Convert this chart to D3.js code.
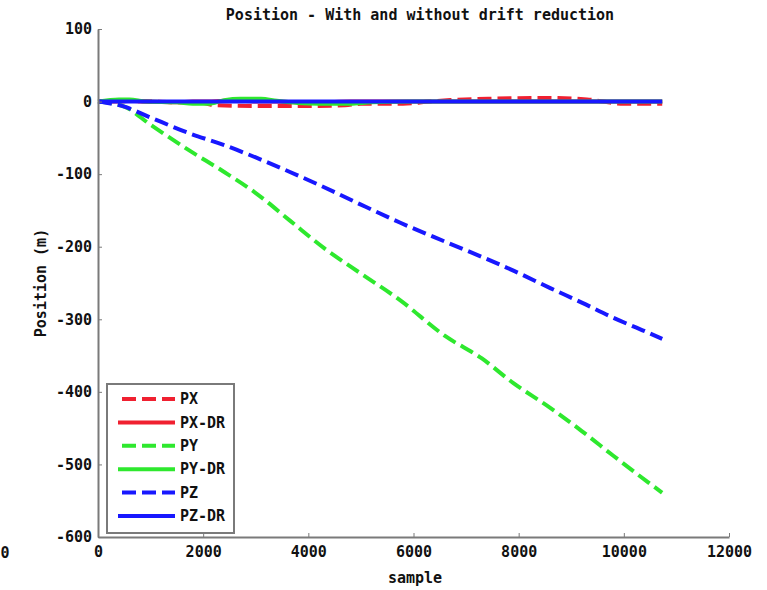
<html>
<head>
<meta charset="utf-8">
<script src="https://d3js.org/d3.v7.min.js"></script>
<style>
  body { margin: 0; background: #fff; }
  text { font-family: "DejaVu Sans Mono", monospace; font-weight: bold; fill: #111; }
</style>
</head>
<body>
<svg width="767" height="590"></svg>
<script>
// samples and series
var sampleXY = [0, 500, 1000, 1750, 2400, 3000, 3650, 4300, 5000, 5750, 6600, 7300, 7900, 8600, 9200, 9800, 10450, 10730];
var PY = [0, -7, -32, -68, -97, -126, -164, -202, -237, -274, -323, -354, -388, -422, -454, -488, -524, -539];
var PZ = [0, -7, -22, -44, -60, -77, -97, -118, -142, -167, -193, -214, -233, -257, -277, -298, -318, -327];

var samplePX = [0, 500, 1000, 1500, 2000, 2200, 3000, 4000, 4700, 5000, 5800, 6300, 6700, 7500, 8500, 9300, 9600, 10000, 10730];
var PX = [0, 1, 0, -1, -2, -5, -6, -6, -5, -3, -3, 0, 2, 4, 5, 3, 0, -3, -3];

var sampleDR = [0, 400, 600, 900, 1500, 1800, 2100, 2400, 2700, 3100, 3400, 3800, 4200, 4800, 5200, 6000, 8000, 10730];
var PYDR = [0, 3, 3, 0, -1, -3, -3, 2, 4, 4, 1, -2, -3, -3, -1, 0, 0, 0];
var PXDR = [0, 0, 1, 0, -1, 0, 0, 1, 1, 0, 0, -1, -1, 0, 0, 0, 0, 0];
var PZDR = [0, 0, 0, 0, 0, 0, 0, 0, 0, 0, 0, 0, 0, 0, 0, 0, 0, 0];

var xTicks = [0, 2000, 4000, 6000, 8000, 10000, 12000];
var yTicks = [100, 0, -100, -200, -300, -400, -500, -600];
var legendNames = ["PX", "PX-DR", "PY", "PY-DR", "PZ", "PZ-DR"];

var red = "#f02030", green = "#2ee82e", blue = "#1818ff";

var svg = d3.select("svg");
var x = d3.scaleLinear().domain([0, 12000]).range([98, 729]);
var y = d3.scaleLinear().domain([-600, 100]).range([537, 29]);

var series = [
  {name: "PX", xs: samplePX, ys: PX, color: red, dash: true},
  {name: "PX-DR", xs: sampleDR, ys: PXDR, color: red, dash: false},
  {name: "PY", xs: sampleXY, ys: PY, color: green, dash: true},
  {name: "PY-DR", xs: sampleDR, ys: PYDR, color: green, dash: false},
  {name: "PZ", xs: sampleXY, ys: PZ, color: blue, dash: true},
  {name: "PZ-DR", xs: sampleDR, ys: PZDR, color: blue, dash: false}
];

var line = d3.line().curve(d3.curveMonotoneX)
  .x(function(d) { return x(d[0]); }).y(function(d) { return y(d[1]); });

svg.append("g").selectAll("path").data(series).enter().append("path")
  .attr("d", function(s) { return line(d3.zip(s.xs, s.ys)); })
  .attr("fill", "none")
  .attr("stroke", function(s) { return s.color; })
  .attr("stroke-width", 4)
  .attr("stroke-dasharray", function(s) { return s.dash ? "14,6" : null; });

// axes, ticks pointing inward
var fmt = function(d) { return String(d); };
var yAxis = svg.append("g").attr("transform", "translate(98,0)")
  .call(d3.axisLeft(y).tickValues(yTicks).tickFormat(fmt).tickSizeInner(-4).tickSizeOuter(0).tickPadding(6));
var xAxis = svg.append("g").attr("transform", "translate(0,537)")
  .call(d3.axisBottom(x).tickValues(xTicks).tickFormat(fmt).tickSizeInner(-4).tickSizeOuter(0).tickPadding(9));
[xAxis, yAxis].forEach(function(a) {
  a.select(".domain").attr("stroke", "#7a7a7a").attr("stroke-width", 2);
  a.selectAll(".tick line").attr("stroke", "#7a7a7a");
  a.selectAll(".tick text").style("font-size", "15px").attr("fill", "#111");
});

// legend
var lg = svg.append("g");
lg.append("rect").attr("x", 107).attr("y", 384).attr("width", 127).attr("height", 149)
  .attr("fill", "#fff").attr("stroke", "#7a7a7a").attr("stroke-width", 2);
var items = lg.selectAll("g.item").data(series).enter().append("g")
  .attr("transform", function(d, i) { return "translate(0," + (399 + i * 23.4) + ")"; });
items.append("line").attr("x1", 118).attr("x2", 175)
  .attr("stroke", function(s) { return s.color; }).attr("stroke-width", 4)
  .attr("stroke-dasharray", function(s) { return s.dash ? "14,6" : null; })
  .attr("stroke-dashoffset", function(s) { return s.dash ? -4 : null; });
items.append("text").attr("x", 180).attr("dy", "0.35em").style("font-size", "15px")
  .text(function(d, i) { return legendNames[i]; });

// titles
svg.append("text").attr("x", 420).attr("y", 20).attr("text-anchor", "middle")
  .style("font-size", "15px").text("Position - With and without drift reduction");
svg.append("text").attr("x", 415).attr("y", 583).attr("text-anchor", "middle")
  .style("font-size", "15px").text("sample");
svg.append("text").attr("transform", "translate(46,283) rotate(-90)").attr("text-anchor", "middle")
  .style("font-size", "15px").text("Position (m)");
// label of the neighbouring panel, at the left edge
svg.append("text").attr("x", 5).attr("y", 558).attr("text-anchor", "middle")
  .style("font-size", "15px").text("0");
</script>
</body>
</html>
